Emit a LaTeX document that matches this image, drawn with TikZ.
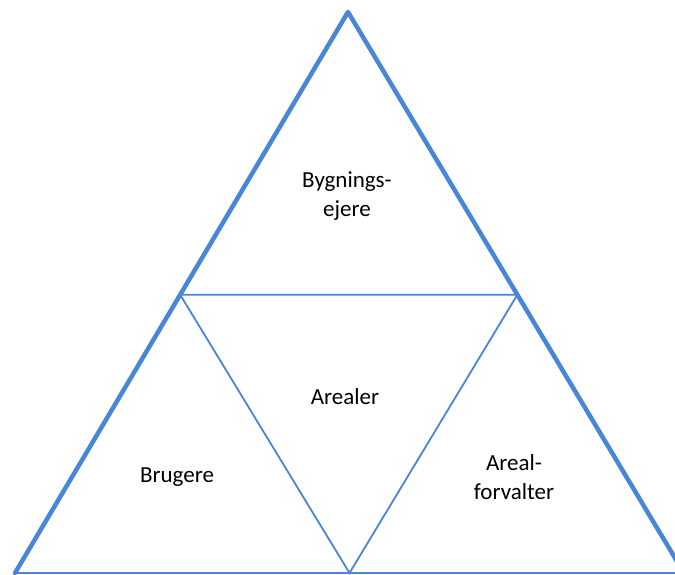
\documentclass[tikz,border=0pt]{standalone}
\usepackage{fontspec}
\setmainfont{Carlito}
\usepackage{tikz}
\usetikzlibrary{calc,positioning}
\definecolor{edgeblue}{RGB}{74,134,214}

\begin{document}
\begin{tikzpicture}[x=1pt,y=-1pt,
  outer/.style={edgeblue,line width=4.5pt,line cap=round,line join=round},
  inner/.style={edgeblue,line width=1.8pt},
  lbl/.style={font=\fontsize{23}{29}\selectfont,align=center}]
  \useasboundingbox (0,0) rectangle (675,574);
  \clip (0,0) rectangle (675,574);
  \coordinate (T) at (348,12);
  \coordinate (L) at (15,573);
  \coordinate (R) at (684,573);
  \coordinate (ML) at ($(T)!0.504!(L)$);
  \coordinate (MR) at ($(T)!0.504!(R)$);
  \coordinate (MB) at ($(L)!0.5!(R)$);
  \draw[inner] (L) -- (R);
  \draw[inner] (ML) -- (MR) -- (MB) -- cycle;
  \draw[outer] (L) -- (T) -- (R);
  \node[lbl] (top) at (347,196) {Bygnings-\\ejere};
  \node[lbl] (mid) at (345,397) {Arealer};
  \node[lbl] (left) at (177,477) {Brugere};
  \node[lbl] (right) at (514,477) {Areal-\\forvalter};
\end{tikzpicture}
\end{document}
